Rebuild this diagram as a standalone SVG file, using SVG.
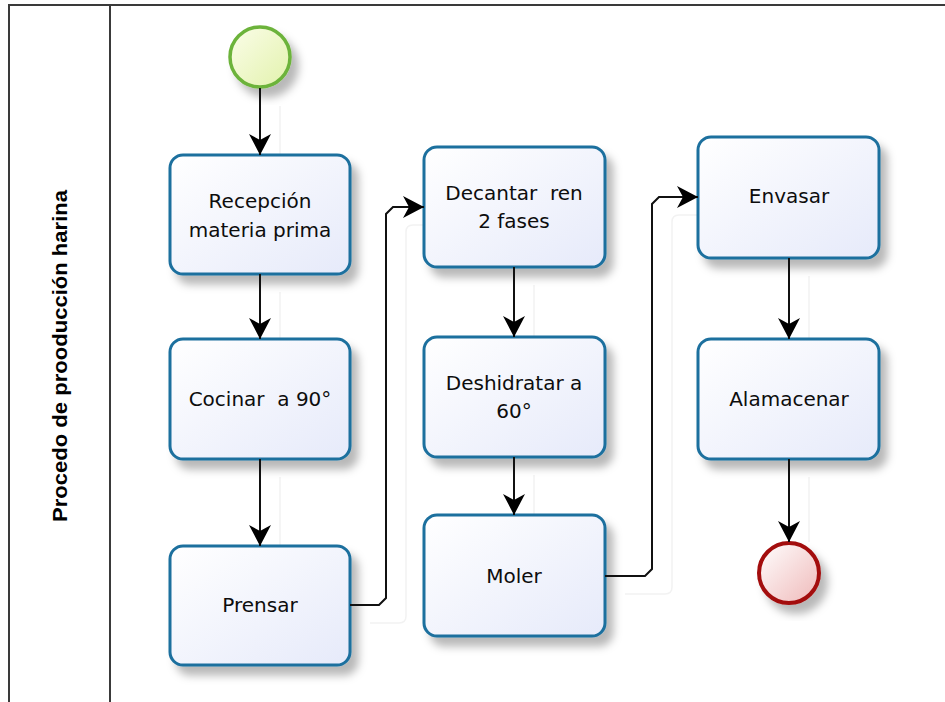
<svg xmlns="http://www.w3.org/2000/svg" width="945" height="702" viewBox="0 0 945 702">
  <style>
    .pool { fill: none; stroke: #3a3a3a; stroke-width: 2; }
    .task rect { fill: url(#taskFill); stroke: #1d6f9e; stroke-width: 3; filter: url(#shadow); }
    .label { font-family: "DejaVu Sans", Verdana, sans-serif; font-size: 20px; fill: #0d0d0d; text-anchor: middle; white-space: pre; }
    .lane-title { font-family: "Liberation Sans", Arial, sans-serif; font-weight: bold; font-size: 20px; fill: #000; text-anchor: middle; }
    .flow { fill: none; stroke: #111; stroke-width: 2; marker-end: url(#arrow); }
    .flow-shadow { fill: none; stroke: #f2f2f2; stroke-width: 1.5; }
  </style>
  <defs>
    <linearGradient id="taskFill" x1="0" y1="0" x2="1" y2="1">
      <stop offset="0" stop-color="#ffffff"/>
      <stop offset="1" stop-color="#e6eafa"/>
    </linearGradient>
    <linearGradient id="startFill" x1="0" y1="0" x2="1" y2="1">
      <stop offset="0" stop-color="#fbfde9"/>
      <stop offset="1" stop-color="#e2f2ac"/>
    </linearGradient>
    <linearGradient id="endFill" x1="0" y1="0" x2="1" y2="1">
      <stop offset="0" stop-color="#ffffff"/>
      <stop offset="1" stop-color="#efb9b9"/>
    </linearGradient>
    <filter id="shadow" x="-20%" y="-20%" width="150%" height="150%">
      <feDropShadow dx="7" dy="9" stdDeviation="4.5" flood-color="#000" flood-opacity="0.28"/>
    </filter>
    <marker id="arrow" markerUnits="userSpaceOnUse" markerWidth="26" markerHeight="26" refX="22" refY="13" orient="auto">
      <path d="M22,13 L1,2 L7,13 L1,24 Z" fill="#000"/>
    </marker>
  </defs>

  <!-- pool and lane -->
  <g id="pool">
    <path class="pool" d="M9,702 V5 H945"/>
    <line class="pool" x1="110" y1="5" x2="110" y2="702"/>
    <text class="lane-title" transform="translate(67,356) rotate(-90)" textLength="332" lengthAdjust="spacingAndGlyphs">Procedo de prooducción harina</text>
  </g>

  <!-- faint connector shadows -->
  <g id="connector-shadows" transform="translate(20,18)">
    <path class="flow-shadow" d="M260,88 V137"/>
    <path class="flow-shadow" d="M260,274 V321"/>
    <path class="flow-shadow" d="M260,459 V528"/>
    <path class="flow-shadow" d="M350,605 H379 Q386,605 386,598 V214 Q386,207 393,207 H406"/>
    <path class="flow-shadow" d="M514,267 V319"/>
    <path class="flow-shadow" d="M514,457 V497"/>
    <path class="flow-shadow" d="M605,576 H645 Q652,576 652,569 V204 Q652,197 659,197 H680"/>
    <path class="flow-shadow" d="M789,258 V321"/>
    <path class="flow-shadow" d="M789,459 V524"/>
  </g>

  <!-- events -->
  <g id="start">
    <circle cx="260" cy="57" r="30" fill="url(#startFill)" stroke="#6cb33a" stroke-width="3.5" filter="url(#shadow)"/>
  </g>
  <g id="end">
    <circle cx="789" cy="573" r="30" fill="url(#endFill)" stroke="#a30d0d" stroke-width="4" filter="url(#shadow)"/>
  </g>

  <!-- tasks -->
  <g id="recepcion" class="task">
    <rect x="170" y="155" width="180" height="119" rx="13"/>
    <text class="label" x="260" y="208">Recepción</text>
    <text class="label" x="260" y="237">materia prima</text>
  </g>
  <g id="cocinar" class="task">
    <rect x="170" y="339" width="180" height="120" rx="13"/>
    <text class="label" x="260" y="406">Cocinar  a 90°</text>
  </g>
  <g id="prensar" class="task">
    <rect x="170" y="546" width="180" height="119" rx="13"/>
    <text class="label" x="260" y="612">Prensar</text>
  </g>
  <g id="decantar" class="task">
    <rect x="424" y="147" width="181" height="120" rx="13"/>
    <text class="label" x="514" y="200">Decantar  ren</text>
    <text class="label" x="514" y="228">2 fases</text>
  </g>
  <g id="deshidratar" class="task">
    <rect x="424" y="337" width="181" height="120" rx="13"/>
    <text class="label" x="514" y="390">Deshidratar a</text>
    <text class="label" x="514" y="418">60°</text>
  </g>
  <g id="moler" class="task">
    <rect x="424" y="515" width="181" height="121" rx="13"/>
    <text class="label" x="514" y="583">Moler</text>
  </g>
  <g id="envasar" class="task">
    <rect x="698" y="137" width="181" height="121" rx="13"/>
    <text class="label" x="789" y="203">Envasar</text>
  </g>
  <g id="alamacenar" class="task">
    <rect x="698" y="339" width="181" height="120" rx="13"/>
    <text class="label" x="789" y="406">Alamacenar</text>
  </g>

  <!-- sequence flows -->
  <g id="connectors">
    <path class="flow" d="M260,88 V155"/>
    <path class="flow" d="M260,274 V339"/>
    <path class="flow" d="M260,459 V546"/>
    <path class="flow" d="M350,605 H379 L386,598 V214 L393,207 H424"/>
    <path class="flow" d="M514,267 V337"/>
    <path class="flow" d="M514,457 V515"/>
    <path class="flow" d="M605,576 H645 L652,569 V204 L659,197 H698"/>
    <path class="flow" d="M789,258 V339"/>
    <path class="flow" d="M789,459 V542"/>
  </g>
</svg>
